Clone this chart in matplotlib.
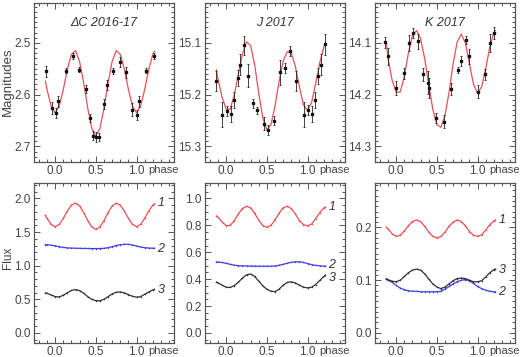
import matplotlib.pyplot as plt
from matplotlib.ticker import MultipleLocator, FormatStrFormatter

plt.rcParams['font.family'] = ['Liberation Sans', 'DejaVu Sans']

# phase grid for the model curves
phase = [-0.12, -0.10, -0.05, 0.00, 0.05, 0.10, 0.15, 0.20, 0.25, 0.30,
         0.35, 0.40, 0.45, 0.50, 0.55, 0.60, 0.65, 0.70, 0.75, 0.80,
         0.85, 0.90, 0.95, 1.00, 1.05, 1.10, 1.15, 1.20, 1.22]

# --- top row: magnitudes, fitted curve + observations
dc_fit = [2.574, 2.590, 2.622, 2.635, 2.622, 2.590, 2.551, 2.522, 2.515, 2.536,
          2.577, 2.626, 2.665, 2.680, 2.665, 2.626, 2.577, 2.536, 2.515, 2.522,
          2.551, 2.590, 2.622, 2.635, 2.622, 2.590, 2.551, 2.522, 2.516]
dc_ph = [-0.114, -0.04, 0.012, 0.04, 0.13, 0.224, 0.294, 0.376, 0.424, 0.47, 0.498,
         0.539, 0.596, 0.641, 0.706, 0.796, 0.869, 0.943, 1.0, 1.033, 1.122, 1.212]
dc_mag = [2.555, 2.626, 2.635, 2.613, 2.554, 2.525, 2.552, 2.589, 2.645, 2.679, 2.682,
          2.682, 2.618, 2.581, 2.555, 2.537, 2.557, 2.629, 2.639, 2.613, 2.554, 2.525]
dc_err = [0.011, 0.012, 0.010, 0.010, 0.005, 0.006, 0.005, 0.008, 0.008, 0.008, 0.010,
          0.008, 0.010, 0.010, 0.006, 0.010, 0.010, 0.012, 0.010, 0.010, 0.005, 0.006]

j_fit = [15.152, 15.170, 15.205, 15.228, 15.228, 15.200, 15.160, 15.122, 15.098, 15.105,
         15.142, 15.197, 15.245, 15.268, 15.258, 15.222, 15.175, 15.135, 15.117, 15.120,
         15.145, 15.185, 15.220, 15.230, 15.215, 15.178, 15.138, 15.108, 15.100]
j_ph = [-0.13, -0.049, 0.008, 0.061, 0.102, 0.143, 0.176, 0.216, 0.273, 0.327, 0.38,
        0.461, 0.51, 0.592, 0.665, 0.727, 0.784, 0.857, 0.951, 1.008, 1.049, 1.09,
        1.131, 1.171, 1.212]
j_mag = [15.174, 15.239, 15.231, 15.237, 15.21, 15.168, 15.142, 15.105, 15.163, 15.217,
         15.23, 15.256, 15.268, 15.25, 15.157, 15.148, 15.116, 15.174, 15.239, 15.23,
         15.237, 15.21, 15.164, 15.142, 15.103]
j_err = [0.019, 0.024, 0.010, 0.015, 0.015, 0.016, 0.020, 0.018, 0.022, 0.008, 0.007,
         0.012, 0.010, 0.008, 0.024, 0.010, 0.010, 0.019, 0.024, 0.010, 0.015, 0.015,
         0.016, 0.020, 0.020]

k_fit = [14.100, 14.130, 14.172, 14.195, 14.195, 14.165, 14.120, 14.086, 14.076, 14.092,
         14.130, 14.180, 14.228, 14.258, 14.263, 14.240, 14.195, 14.140, 14.098, 14.083,
         14.100, 14.140, 14.180, 14.197, 14.185, 14.150, 14.108, 14.080, 14.076]
k_ph = [-0.143, -0.102, 0.0, 0.094, 0.163, 0.204, 0.273, 0.327, 0.388, 0.408, 0.49,
        0.584, 0.673, 0.755, 0.796, 0.857, 0.898, 1.0, 1.09, 1.155, 1.196]
k_mag = [14.099, 14.126, 14.187, 14.159, 14.1, 14.081, 14.097, 14.161, 14.177, 14.187,
         14.245, 14.252, 14.189, 14.152, 14.135, 14.094, 14.126, 14.194, 14.161, 14.1, 14.081]
k_err = [0.011, 0.016, 0.013, 0.011, 0.015, 0.010, 0.015, 0.013, 0.022, 0.019, 0.010,
         0.013, 0.011, 0.006, 0.010, 0.008, 0.015, 0.013, 0.011, 0.018, 0.011]

# --- bottom row: flux components 1, 2, 3
dc_f1 = [1.748, 1.704, 1.614, 1.580, 1.614, 1.704, 1.814, 1.901, 1.930, 1.889,
         1.790, 1.672, 1.576, 1.540, 1.576, 1.672, 1.790, 1.889, 1.930, 1.901,
         1.814, 1.704, 1.614, 1.580, 1.614, 1.704, 1.814, 1.901, 1.921]
dc_f2 = [1.315, 1.313, 1.305, 1.295, 1.283, 1.272, 1.265, 1.262, 1.260, 1.258,
         1.257, 1.256, 1.255, 1.255, 1.255, 1.258, 1.268, 1.283, 1.300, 1.312,
         1.318, 1.318, 1.308, 1.292, 1.278, 1.268, 1.262, 1.260, 1.260]
dc_f3 = [0.595, 0.590, 0.565, 0.540, 0.535, 0.560, 0.598, 0.632, 0.645, 0.630,
         0.590, 0.540, 0.500, 0.480, 0.478, 0.500, 0.540, 0.580, 0.605, 0.610,
         0.595, 0.570, 0.545, 0.532, 0.540, 0.575, 0.610, 0.640, 0.648]

j_f1 = [0.870, 0.860, 0.825, 0.798, 0.800, 0.835, 0.885, 0.925, 0.942, 0.930,
        0.890, 0.838, 0.798, 0.785, 0.800, 0.840, 0.890, 0.930, 0.942, 0.925,
        0.885, 0.835, 0.805, 0.797, 0.810, 0.850, 0.895, 0.930, 0.936]
j_f2 = [0.528, 0.527, 0.524, 0.518, 0.510, 0.504, 0.500, 0.499, 0.498, 0.497,
        0.497, 0.496, 0.496, 0.496, 0.496, 0.498, 0.503, 0.510, 0.518, 0.525,
        0.529, 0.529, 0.524, 0.516, 0.508, 0.502, 0.499, 0.497, 0.497]
j_f3 = [0.378, 0.372, 0.355, 0.340, 0.338, 0.352, 0.378, 0.408, 0.432, 0.438,
        0.420, 0.385, 0.350, 0.325, 0.310, 0.307, 0.325, 0.355, 0.375, 0.380,
        0.372, 0.355, 0.340, 0.335, 0.340, 0.360, 0.390, 0.420, 0.430]

k_f1 = [0.200, 0.197, 0.188, 0.183, 0.185, 0.193, 0.203, 0.211, 0.214, 0.211,
        0.202, 0.191, 0.183, 0.180, 0.183, 0.191, 0.202, 0.210, 0.214, 0.211,
        0.203, 0.192, 0.185, 0.183, 0.186, 0.195, 0.205, 0.212, 0.214]
k_f2 = [0.102, 0.100, 0.096, 0.090, 0.085, 0.082, 0.080, 0.079, 0.079, 0.078,
        0.078, 0.078, 0.078, 0.078, 0.079, 0.083, 0.088, 0.093, 0.097, 0.100,
        0.101, 0.099, 0.094, 0.088, 0.084, 0.081, 0.079, 0.078, 0.078]
k_f3 = [0.103, 0.101, 0.098, 0.097, 0.100, 0.107, 0.114, 0.119, 0.121, 0.119,
        0.112, 0.102, 0.093, 0.087, 0.084, 0.087, 0.093, 0.099, 0.103, 0.104,
        0.103, 0.100, 0.097, 0.097, 0.099, 0.106, 0.114, 0.120, 0.121]

titles = ['ΔC 2016-17', 'J 2017', 'K 2017']

fig = plt.figure(figsize=(5.2, 3.57), dpi=100)
W, H = 520.0, 357.0
lefts = [34, 205, 375]
width = 140

TXT = '#444444'
RED = '#ee4f55'
BLUE = '#4040e0'
BLACK = '#333333'


def style(ax, ymaj, ymin):
    ax.set_xlim(-0.26, 1.46)
    ax.xaxis.set_major_locator(MultipleLocator(0.5))
    ax.xaxis.set_minor_locator(MultipleLocator(0.1))
    ax.yaxis.set_major_locator(MultipleLocator(ymaj))
    ax.yaxis.set_minor_locator(MultipleLocator(ymin))
    ax.xaxis.set_major_formatter(FormatStrFormatter('%.1f'))
    ax.yaxis.set_major_formatter(FormatStrFormatter('%.1f'))
    ax.tick_params(which='both', direction='in', top=True, right=True,
                   color='#555555', labelcolor=TXT, labelsize=8.5, pad=2.5, width=0.7)
    ax.tick_params(which='major', length=4.5)
    ax.tick_params(which='minor', length=2.2)
    for s in ax.spines.values():
        s.set_color('#555555')
        s.set_linewidth(0.9)
    ax.annotate('phase', xy=(1.33, 0), xycoords=('data', 'axes fraction'),
                xytext=(0, -2.5), textcoords='offset points', ha='center', va='top',
                fontsize=8, color=TXT)


top_data = [(dc_fit, dc_ph, dc_mag, dc_err, (2.73, 2.423)),
            (j_fit, j_ph, j_mag, j_err, (15.33, 15.023)),
            (k_fit, k_ph, k_mag, k_err, (14.33, 14.023))]

for i, (fit, ph, mag, err, lim) in enumerate(top_data):
    ax = fig.add_axes([lefts[i] / W, 1 - 162 / H, width / W, 159 / H])
    ax.plot(phase, fit, color=RED, lw=0.9)
    ax.errorbar(ph, mag, yerr=err, fmt='s', ms=1.8, color='#111111',
                ecolor='#222222', elinewidth=0.6, capsize=1.0, capthick=0.6)
    ax.set_ylim(*lim)
    style(ax, 0.1, 0.01)
    ax.text(0.5, 0.875, titles[i], transform=ax.transAxes, ha='center', va='center',
            fontsize=9, style='italic', color='#333333')

bot_data = [(dc_f1, dc_f2, dc_f3, (-0.15, 2.23), 0.5, 0.1,
             [(1.93, '1'), (1.25, '2'), (0.64, '3')]),
            (j_f1, j_f2, j_f3, (-0.075, 1.115), 0.2, 0.05,
             [(0.94, '1'), (0.505, '2'), (0.405, '3')]),
            (k_f1, k_f2, k_f3, (-0.019, 0.284), 0.1, 0.01,
             [(0.214, '1'), (0.078, '2'), (0.119, '3')])]

for i, (f1, f2, f3, lim, ymaj, ymin, labs) in enumerate(bot_data):
    ax = fig.add_axes([lefts[i] / W, 1 - 343 / H, width / W, 160 / H])
    for f, c in [(f1, RED), (f2, BLUE), (f3, BLACK)]:
        ax.plot(phase, f, color=c, lw=0.9, marker='o', ms=1.1, mew=0)
    ax.set_ylim(*lim)
    style(ax, ymaj, ymin)
    for y, t in labs:
        ax.text(1.30, y, t, ha='center', va='center', fontsize=9,
                style='italic', color='#333333')

fig.text(8 / W, 1 - 82 / H, 'Magnitudes', rotation=90, ha='center', va='center',
         fontsize=9.5, color=TXT)
fig.text(8 / W, 1 - 258 / H, 'Flux', rotation=90, ha='center', va='center',
         fontsize=8.5, color=TXT)

fig.savefig('out.png', dpi=100, facecolor='white')
